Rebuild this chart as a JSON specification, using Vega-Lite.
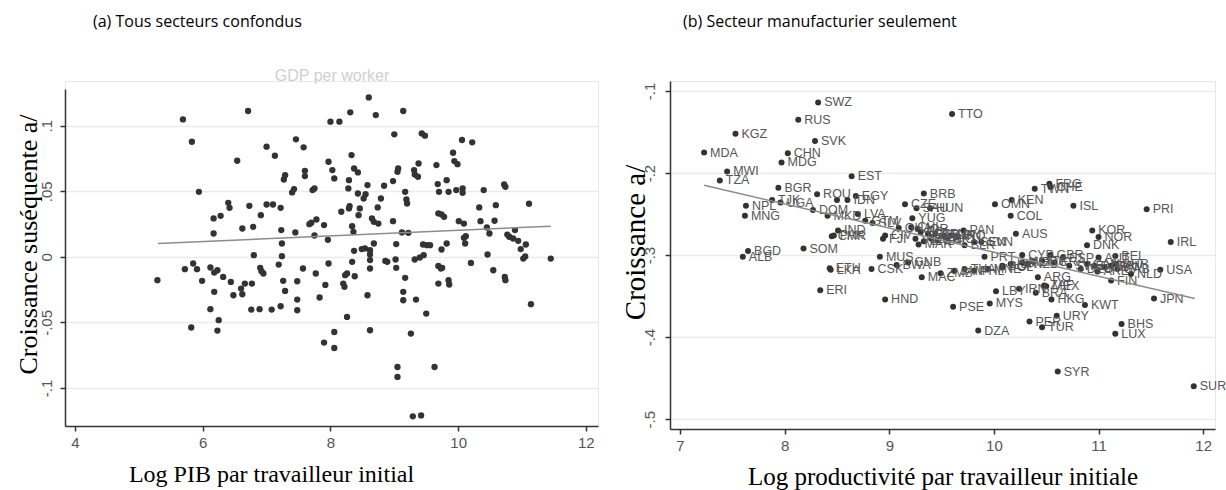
{
"$schema": "https://vega.github.io/schema/vega-lite/v6.json",
"background": "white",
"padding": {"left": 14, "top": 13, "right": 0, "bottom": 0},
"spacing": 72,
"bounds": "flush",
"config": {
 "view": {"stroke": "#e8e8e8", "strokeWidth": 1},
 "axis": {"domainColor": "#333", "domainWidth": 1.5, "tickColor": "#333", "tickWidth": 1.5, "tickSize": 5, "labelFont": "Liberation Sans", "labelFontSize": 15, "labelColor": "#555", "titleFont": "Liberation Serif", "titleFontWeight": "normal", "titleColor": "#000", "titleFontSize": 24, "gridColor": "#ebebeb", "gridWidth": 1.5},
 "title": {"font": "Open Sans", "fontSize": 16, "fontWeight": "normal", "color": "#000", "anchor": "start", "frame": "group"}
},
"datasets": {
 "a": [
{"x":5.29,"y":-0.0178},{"x":5.69,"y":0.1048},{"x":5.83,"y":0.0878},{"x":5.94,"y":0.0496},{"x":5.72,"y":-0.0094},{"x":5.85,"y":-0.0051},{"x":5.91,"y":-0.0094},{"x":5.99,"y":-0.0183},{"x":5.82,"y":-0.0539},{"x":6.17,"y":0.0178},
{"x":6.17,"y":0.0293},{"x":6.12,"y":-0.0081},{"x":6.18,"y":-0.012},{"x":6.23,"y":-0.0102},{"x":6.18,"y":-0.0267},{"x":6.12,"y":-0.0399},{"x":6.25,"y":-0.0483},{"x":6.23,"y":-0.0562},{"x":6.28,"y":0.0313},{"x":6.32,"y":-0.0153},
{"x":6.42,"y":0.0374},{"x":6.4,"y":0.0412},{"x":6.44,"y":-0.0191},{"x":6.48,"y":-0.0293},{"x":6.54,"y":0.0733},{"x":6.6,"y":-0.0242},{"x":6.62,"y":0.0216},{"x":6.62,"y":-0.0285},{"x":6.66,"y":-0.0204},{"x":6.71,"y":0.1112},
{"x":6.73,"y":0.0389},{"x":6.77,"y":-0.0204},{"x":6.76,"y":-0.0402},{"x":6.79,"y":0.0229},{"x":6.8,"y":0.0013},{"x":6.89,"y":-0.0399},{"x":6.9,"y":-0.0084},{"x":6.91,"y":0.0318},{"x":6.92,"y":-0.0109},{"x":6.95,"y":-0.0127},
{"x":7.0,"y":0.084},{"x":7.0,"y":0.0399},{"x":7.08,"y":-0.0402},{"x":7.1,"y":0.0399},{"x":7.13,"y":0.0771},{"x":7.19,"y":-0.0059},{"x":7.22,"y":0.0374},{"x":7.22,"y":-0.0377},{"x":7.23,"y":0.0204},{"x":7.24,"y":0.0102},
{"x":7.24,"y":0.0005},{"x":7.26,"y":-0.0183},{"x":7.27,"y":0.059},{"x":7.29,"y":0.0623},{"x":7.29,"y":-0.026},{"x":7.4,"y":0.0491},{"x":7.43,"y":0.0517},{"x":7.45,"y":0.0186},{"x":7.46,"y":0.0896},{"x":7.48,"y":-0.0186},
{"x":7.48,"y":-0.0326},{"x":7.48,"y":-0.0407},{"x":7.57,"y":-0.0089},{"x":7.58,"y":0.0835},{"x":7.6,"y":0.0656},{"x":7.6,"y":0.0616},{"x":7.67,"y":0.0249},{"x":7.7,"y":0.026},{"x":7.72,"y":0.0509},{"x":7.75,"y":0.0522},
{"x":7.75,"y":0.0163},{"x":7.77,"y":-0.0127},{"x":7.78,"y":0.0285},{"x":7.83,"y":-0.031},{"x":7.9,"y":0.0242},{"x":7.92,"y":-0.0214},{"x":7.9,"y":-0.0654},{"x":7.96,"y":0.013},{"x":7.97,"y":-0.0051},{"x":8.0,"y":0.1031},
{"x":7.97,"y":0.0725},{"x":8.03,"y":0.0662},{"x":8.06,"y":-0.0695},{"x":8.06,"y":-0.0573},{"x":8.06,"y":0.0598},{"x":8.14,"y":0.1031},{"x":8.17,"y":0.0344},{"x":8.2,"y":-0.0204},{"x":8.22,"y":-0.0229},{"x":8.23,"y":-0.014},
{"x":8.26,"y":-0.0127},{"x":8.26,"y":-0.0458},{"x":8.28,"y":0.0522},{"x":8.29,"y":0.0585},{"x":8.29,"y":0.0369},{"x":8.3,"y":0.0387},{"x":8.31,"y":0.1102},{"x":8.33,"y":0.0776},{"x":8.34,"y":0.0234},{"x":8.36,"y":0.0191},
{"x":8.37,"y":0.0046},{"x":8.34,"y":-0.0038},{"x":8.37,"y":0.0674},{"x":8.38,"y":-0.0148},{"x":8.43,"y":0.0644},{"x":8.43,"y":0.0483},{"x":8.44,"y":0.0318},{"x":8.46,"y":0.0369},{"x":8.49,"y":0.0059},{"x":8.54,"y":0.0064},
{"x":8.58,"y":-0.0293},{"x":8.6,"y":0.1216},{"x":8.62,"y":0.0051},{"x":8.62,"y":0.0018},{"x":8.62,"y":-0.0025},{"x":8.62,"y":-0.0089},{"x":8.62,"y":-0.056},{"x":8.58,"y":0.0547},{"x":8.55,"y":0.0478},{"x":8.52,"y":0.0445},
{"x":8.65,"y":0.0293},{"x":8.68,"y":0.0267},{"x":8.68,"y":0.0102},{"x":8.71,"y":0.1081},{"x":8.74,"y":0.0377},{"x":8.75,"y":0.0254},{"x":8.79,"y":0.0445},{"x":8.84,"y":0.0542},{"x":8.86,"y":-0.0031},{"x":8.89,"y":-0.0038},
{"x":8.98,"y":0.0272},{"x":8.98,"y":0.0578},{"x":9.0,"y":0.0934},{"x":9.05,"y":0.0649},{"x":9.05,"y":-0.084},{"x":9.05,"y":-0.0916},{"x":9.06,"y":0.0674},{"x":9.03,"y":0.0097},{"x":9.02,"y":-0.002},{"x":9.03,"y":-0.0084},
{"x":9.12,"y":0.0186},{"x":9.14,"y":0.1112},{"x":9.14,"y":-0.0267},{"x":9.14,"y":-0.0331},{"x":9.17,"y":0.0496},{"x":9.19,"y":0.0438},{"x":9.2,"y":0.0407},{"x":9.22,"y":0.0183},{"x":9.17,"y":-0.016},{"x":9.26,"y":-0.0585},
{"x":9.29,"y":-0.1216},{"x":9.31,"y":0.0662},{"x":9.32,"y":0.0628},{"x":9.32,"y":-0.002},{"x":9.34,"y":-0.0326},{"x":9.37,"y":0.0611},{"x":9.38,"y":0.0712},{"x":9.4,"y":-0.0005},{"x":9.42,"y":-0.1209},{"x":9.43,"y":0.0941},
{"x":9.48,"y":0.0924},{"x":9.45,"y":0.0094},{"x":9.46,"y":0.0013},{"x":9.51,"y":0.0089},{"x":9.5,"y":-0.0433},{"x":9.56,"y":0.0089},{"x":9.63,"y":-0.084},{"x":9.66,"y":0.07},{"x":9.68,"y":0.0555},{"x":9.69,"y":0.0331},
{"x":9.69,"y":-0.0204},{"x":9.69,"y":-0.0069},{"x":9.7,"y":0.0496},{"x":9.73,"y":-0.0089},{"x":9.74,"y":0.0323},{"x":9.74,"y":0.0056},{"x":9.75,"y":-0.0084},{"x":9.78,"y":0.0305},{"x":9.82,"y":0.0585},{"x":9.82,"y":0.0102},
{"x":9.85,"y":0.0496},{"x":9.85,"y":-0.0178},{"x":9.86,"y":-0.0211},{"x":9.92,"y":0.0794},{"x":9.94,"y":0.073},{"x":9.97,"y":0.0509},{"x":9.99,"y":0.0707},{"x":10.01,"y":0.0272},{"x":10.07,"y":0.0522},{"x":10.07,"y":0.0489},
{"x":10.09,"y":0.0254},{"x":10.09,"y":0.0145},{"x":10.11,"y":0.0102},{"x":10.12,"y":0.0158},{"x":10.2,"y":-0.0046},{"x":10.06,"y":0.0891},{"x":10.22,"y":0.0873},{"x":10.33,"y":0.0377},{"x":10.35,"y":0.0272},{"x":10.4,"y":0.0509},
{"x":10.45,"y":0.0224},{"x":10.46,"y":0.0018},{"x":10.49,"y":0.0178},{"x":10.55,"y":-0.0102},{"x":10.57,"y":0.0275},{"x":10.59,"y":0.0394},{"x":10.72,"y":0.0552},{"x":10.74,"y":0.0534},{"x":10.73,"y":-0.0153},{"x":10.74,"y":-0.0178},
{"x":10.77,"y":0.017},{"x":10.8,"y":0.0153},{"x":10.86,"y":0.014},{"x":10.89,"y":0.0204},{"x":10.94,"y":0.0122},{"x":10.98,"y":0.0059},{"x":11.02,"y":-0.0013},{"x":11.05,"y":0.0003},{"x":11.06,"y":0.0094},{"x":11.11,"y":0.0405},
{"x":11.14,"y":-0.0361},{"x":11.45,"y":-0.0013}
 ],
 "fitA": [{"x":5.30,"y":0.0102},{"x":11.45,"y":0.0234}],
 "fitB": [{"x":7.23,"y":-0.215},{"x":11.92,"y":-0.353}],
 "b": [
{"code":"SWZ","x":8.32,"y":-0.114},{"code":"RUS","x":8.13,"y":-0.135},{"code":"KGZ","x":7.53,"y":-0.152},{"code":"SVK","x":8.29,"y":-0.161},{"code":"MDA","x":7.23,"y":-0.175},{"code":"CHN","x":8.03,"y":-0.176},{"code":"MDG","x":7.97,"y":-0.187},{"code":"MWI","x":7.45,"y":-0.198},{"code":"TZA","x":7.38,"y":-0.209},{"code":"EST","x":8.64,"y":-0.204},
{"code":"TTO","x":9.60,"y":-0.128},{"code":"BGR","x":7.94,"y":-0.218},{"code":"ROU","x":8.31,"y":-0.226},{"code":"","x":8.50,"y":-0.233},{"code":"EGY","x":8.68,"y":-0.228},{"code":"IDN","x":8.60,"y":-0.233},{"code":"NPL","x":7.63,"y":-0.240},{"code":"MNG","x":7.62,"y":-0.252},{"code":"TJK","x":7.88,"y":-0.233},{"code":"UGA","x":7.96,"y":-0.236},
{"code":"DOM","x":8.27,"y":-0.245},{"code":"MKD","x":8.41,"y":-0.252},{"code":"LVA","x":8.70,"y":-0.250},{"code":"GTM","x":8.77,"y":-0.258},{"code":"SLV","x":8.84,"y":-0.261},{"code":"IND","x":8.51,"y":-0.270},{"code":"CMR","x":8.45,"y":-0.277},{"code":"PAK","x":8.47,"y":-0.276},{"code":"SOM","x":8.18,"y":-0.292},{"code":"BGD","x":7.65,"y":-0.295},
{"code":"ALB","x":7.60,"y":-0.302},{"code":"MUS","x":8.91,"y":-0.302},{"code":"ETH","x":8.43,"y":-0.316},{"code":"LKA","x":8.44,"y":-0.318},{"code":"CSK","x":8.83,"y":-0.317},{"code":"BWA","x":9.07,"y":-0.312},{"code":"GNB","x":9.18,"y":-0.309},{"code":"MAC","x":9.31,"y":-0.327},{"code":"ZMB","x":9.49,"y":-0.322},{"code":"ERI","x":8.34,"y":-0.343},
{"code":"HND","x":8.96,"y":-0.354},{"code":"BRB","x":9.33,"y":-0.225},{"code":"CZE","x":9.15,"y":-0.238},{"code":"SAU","x":9.26,"y":-0.243},{"code":"HUN","x":9.39,"y":-0.243},{"code":"YUG","x":9.22,"y":-0.255},{"code":"FJI","x":8.94,"y":-0.280},{"code":"CIV","x":8.96,"y":-0.276},{"code":"GHA","x":9.09,"y":-0.267},{"code":"CHL","x":9.21,"y":-0.266},
{"code":"JOR","x":9.27,"y":-0.268},{"code":"BOL","x":9.30,"y":-0.272},{"code":"ECU","x":9.37,"y":-0.274},{"code":"PRY","x":9.44,"y":-0.274},{"code":"TUN","x":9.52,"y":-0.276},{"code":"LBN","x":9.59,"y":-0.276},{"code":"IRQ","x":9.65,"y":-0.277},{"code":"PAN","x":9.71,"y":-0.270},{"code":"MAR","x":9.28,"y":-0.287},{"code":"VEN","x":9.25,"y":-0.280},
{"code":"SRB","x":9.33,"y":-0.283},{"code":"SYC","x":9.40,"y":-0.280},{"code":"CRI","x":9.46,"y":-0.282},{"code":"NIC","x":9.55,"y":-0.281},{"code":"SEN","x":9.81,"y":-0.284},{"code":"BLR","x":9.72,"y":-0.288},{"code":"SVN","x":9.88,"y":-0.284},{"code":"PRT","x":9.91,"y":-0.302},{"code":"JAM","x":9.62,"y":-0.319},{"code":"THA","x":9.72,"y":-0.317},
{"code":"PHL","x":9.81,"y":-0.319},{"code":"MNE","x":9.94,"y":-0.317},{"code":"POL","x":10.08,"y":-0.315},{"code":"OMN","x":10.01,"y":-0.238},{"code":"KEN","x":10.17,"y":-0.233},{"code":"COL","x":10.16,"y":-0.252},{"code":"AUS","x":10.21,"y":-0.274},{"code":"TWN","x":10.39,"y":-0.219},{"code":"FRG","x":10.53,"y":-0.213},{"code":"CHE","x":10.54,"y":-0.217},
{"code":"ISL","x":10.76,"y":-0.240},{"code":"PRI","x":11.46,"y":-0.244},{"code":"KOR","x":10.94,"y":-0.270},{"code":"NOR","x":11.00,"y":-0.278},{"code":"DNK","x":10.89,"y":-0.288},{"code":"IRL","x":11.69,"y":-0.284},{"code":"CYP","x":10.27,"y":-0.300},{"code":"GBR","x":10.54,"y":-0.300},{"code":"ESP","x":10.66,"y":-0.303},{"code":"AUT","x":11.00,"y":-0.303},
{"code":"BEL","x":11.16,"y":-0.301},{"code":"SGP","x":10.08,"y":-0.313},{"code":"ISR","x":10.16,"y":-0.311},{"code":"MLT","x":10.27,"y":-0.309},{"code":"NZL","x":10.32,"y":-0.311},{"code":"GRC","x":10.38,"y":-0.308},{"code":"ITA","x":10.46,"y":-0.307},{"code":"FRA","x":10.58,"y":-0.309},{"code":"SWE","x":10.72,"y":-0.313},{"code":"DEU","x":10.83,"y":-0.317},
{"code":"CAN","x":10.89,"y":-0.311},{"code":"QAT","x":10.96,"y":-0.313},{"code":"ARE","x":10.99,"y":-0.320},{"code":"BRN","x":11.06,"y":-0.315},{"code":"HRV","x":11.12,"y":-0.313},{"code":"BHR","x":11.17,"y":-0.311},{"code":"GAB","x":11.18,"y":-0.317},{"code":"NLD","x":11.31,"y":-0.323},{"code":"FIN","x":11.12,"y":-0.331},{"code":"USA","x":11.59,"y":-0.318},
{"code":"JPN","x":11.53,"y":-0.353},{"code":"ARG","x":10.42,"y":-0.327},{"code":"IRN","x":10.24,"y":-0.341},{"code":"LBY","x":10.02,"y":-0.344},{"code":"BRA","x":10.40,"y":-0.346},{"code":"ZAF","x":10.48,"y":-0.337},{"code":"MEX","x":10.50,"y":-0.338},{"code":"HKG","x":10.55,"y":-0.354},{"code":"KWT","x":10.87,"y":-0.361},{"code":"MYS","x":9.96,"y":-0.359},
{"code":"PSE","x":9.61,"y":-0.363},{"code":"URY","x":10.60,"y":-0.374},{"code":"PER","x":10.34,"y":-0.381},{"code":"TUR","x":10.46,"y":-0.388},{"code":"DZA","x":9.85,"y":-0.392},{"code":"BHS","x":11.22,"y":-0.384},{"code":"LUX","x":11.16,"y":-0.396},{"code":"SYR","x":10.61,"y":-0.442},{"code":"SUR","x":11.91,"y":-0.460}
 ]
},
"hconcat": [
 {
  "width": 533, "height": 345,
  "title": {"text": "(a) Tous secteurs confondus", "dx": 28, "offset": 37},
  "resolve": {"axis": {"x": "independent"}},
  "layer": [
   {"data": {"name": "a"}, "mark": {"type": "circle", "size": 40, "color": "#333", "opacity": 1},
    "encoding": {
     "x": {"field": "x", "type": "quantitative", "scale": {"domain": [3.843, 12.19], "nice": false, "zero": false},
       "axis": {"values": [4, 6, 8, 10, 12], "format": "d", "grid": false, "labelPadding": 4, "title": "Log PIB par travailleur initial", "titleX": 206, "titleY": 55, "titleBaseline": "alphabetic", "titleAnchor": "middle", "titleAlign": "center"}},
     "y": {"field": "y", "type": "quantitative", "scale": {"domain": [-0.129, 0.128], "range": [345, 8], "nice": false, "zero": false},
       "axis": {"values": [-0.1, -0.05, 0, 0.05, 0.1], "labelExpr": "(datum.value < 0 ? '-' : '') + replace(format(abs(datum.value), '.2~f'), '0.', '.')", "labelAngle": -90, "labelAlign": "center", "labelBaseline": "bottom", "labelPadding": 6, "grid": true, "title": "Croissance suséquente  a/", "titleFontSize": 26, "titleX": -37, "titleY": 163, "titleAngle": -90, "titleAlign": "center", "titleBaseline": "middle"}}
    }},
   {"data": {"name": "fitA"}, "mark": {"type": "line", "color": "#8c8c8c", "strokeWidth": 1.5},
    "encoding": {"x": {"field": "x", "type": "quantitative", "axis": null}, "y": {"field": "y", "type": "quantitative"}}},
   {"data": {"name": "fitA"}, "mark": {"type": "line", "opacity": 0},
    "encoding": {"x": {"field": "x", "type": "quantitative", "axis": {"orient": "top", "title": "GDP per worker", "labels": false, "ticks": false, "domain": false, "grid": false, "titleColor": "#cfcfcf", "titleFont": "Liberation Sans", "titleFontSize": 16, "titleY": -1, "titleBaseline": "alphabetic"}}, "y": {"field": "y", "type": "quantitative"}}}
  ]
 },
 {
  "width": 545, "height": 348,
  "title": {"text": "(b) Secteur manufacturier seulement", "dx": 13, "offset": 51},
  "layer": [
   {"data": {"name": "b"}, "mark": {"type": "circle", "size": 36, "color": "#333", "opacity": 1},
    "encoding": {
     "x": {"field": "x", "type": "quantitative", "scale": {"domain": [6.904, 12.113], "nice": false, "zero": false},
       "axis": {"values": [7, 8, 9, 10, 11, 12], "format": "d", "grid": false, "labelPadding": 4, "title": "Log productivité par travailleur initiale", "titleFontSize": 25, "titleY": 55, "titleBaseline": "alphabetic"}},
     "y": {"field": "y", "type": "quantitative", "scale": {"domain": [-0.512, -0.0878], "nice": false, "zero": false},
       "axis": {"values": [-0.5, -0.4, -0.3, -0.2, -0.1], "labelExpr": "(datum.value < 0 ? '-' : '') + replace(format(abs(datum.value), '.2~f'), '0.', '.')", "labelAngle": -90, "labelAlign": "center", "labelBaseline": "bottom", "labelPadding": 8, "grid": true, "title": "Croissance  a/", "titleFontSize": 29, "titleX": -35, "titleY": 161, "titleAngle": -90, "titleAlign": "center", "titleBaseline": "middle"}}
    }},
   {"data": {"name": "b"}, "mark": {"type": "text", "align": "left", "baseline": "middle", "dx": 6, "font": "Liberation Sans", "fontSize": 12.5, "color": "#555"},
    "encoding": {"x": {"field": "x", "type": "quantitative"}, "y": {"field": "y", "type": "quantitative"}, "text": {"field": "code"}}},
   {"data": {"name": "fitB"}, "mark": {"type": "line", "color": "#8c8c8c", "strokeWidth": 1.5},
    "encoding": {"x": {"field": "x", "type": "quantitative"}, "y": {"field": "y", "type": "quantitative"}}}
  ]
 }
]
}
